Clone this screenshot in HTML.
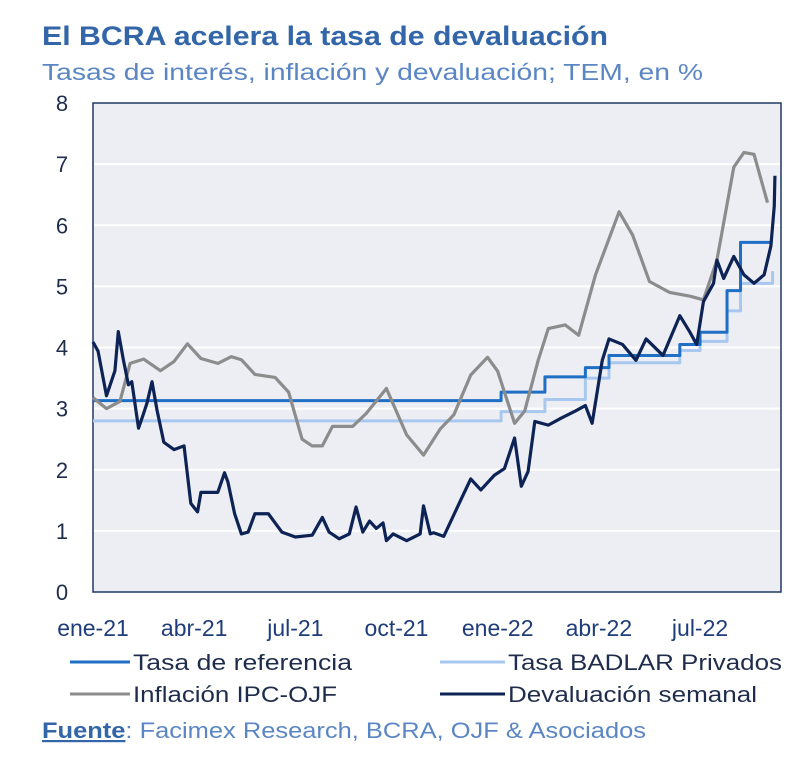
<!DOCTYPE html>
<html><head><meta charset="utf-8">
<style>
body{margin:0;background:#fff;width:800px;height:769px;overflow:hidden;font-family:"Liberation Sans",sans-serif;}
</style></head>
<body>
<svg id="chart" width="800" height="769" xmlns="http://www.w3.org/2000/svg" font-family="Liberation Sans, sans-serif">
<text x="42" y="45" font-size="27" font-weight="bold" fill="#3366a8" textLength="566" lengthAdjust="spacingAndGlyphs">El BCRA acelera la tasa de devaluación</text>
<text x="42" y="80" font-size="23" fill="#5b86c4" textLength="661" lengthAdjust="spacingAndGlyphs">Tasas de interés, inflación y devaluación; TEM, en %</text>
<rect x="93" y="103" width="688" height="489" fill="#eceef3" stroke="#1f3864" stroke-width="1.5"/>
<g id="grid"></g>
<g id="yticks" font-size="22" fill="#1f2d4d" text-anchor="middle"></g>
<g id="xticks" font-size="23" fill="#1f3d7a" text-anchor="middle"></g>
<g id="series"></g>
<g font-size="22" fill="#1f2d4d">
<line x1="70" y1="662" x2="130" y2="662" stroke="#1f6fc5" stroke-width="3"/>
<text x="133" y="670" textLength="219" lengthAdjust="spacingAndGlyphs">Tasa de referencia</text>
<line x1="440" y1="662" x2="505" y2="662" stroke="#a9c8f0" stroke-width="3"/>
<text x="508" y="670" textLength="274" lengthAdjust="spacingAndGlyphs">Tasa BADLAR Privados</text>
<line x1="70" y1="694" x2="130" y2="694" stroke="#8c8c8c" stroke-width="3"/>
<text x="133" y="702" textLength="204" lengthAdjust="spacingAndGlyphs">Inflación IPC-OJF</text>
<line x1="440" y1="694" x2="505" y2="694" stroke="#0d2356" stroke-width="3"/>
<text x="508" y="702" textLength="249" lengthAdjust="spacingAndGlyphs">Devaluación semanal</text>
</g>
<text x="42" y="738" font-size="22" fill="#5b86c4" textLength="604" lengthAdjust="spacingAndGlyphs"><tspan font-weight="bold" fill="#3366a8" text-decoration="underline">Fuente</tspan>: Facimex Research, BCRA, OJF &amp; Asociados</text>
</svg>
<script>
const yTicks=[0,1,2,3,4,5,6,7,8];
const xTickLabels=["ene-21","abr-21","jul-21","oct-21","ene-22","abr-22","jul-22"];
const xTickMonths=[0,3,6,9,12,15,18];
const refT=[0,12.1,13.4,14.6,15.3,17.4,18.0,18.8,19.2,20.15];
const refV=[3.13,3.27,3.52,3.67,3.87,4.05,4.25,4.93,5.72,5.72];
const badT=[0,12.1,13.4,14.6,15.3,17.4,18.0,18.8,19.2,20.15];
const badV=[2.8,2.95,3.15,3.5,3.75,3.95,4.1,4.6,5.05,5.25];
const infT=[0,0.4,0.8,1.1,1.5,2.0,2.4,2.8,3.2,3.7,4.1,4.4,4.8,5.4,5.8,6.2,6.5,6.8,7.1,7.7,8.1,8.7,9.3,9.8,10.3,10.7,11.2,11.7,12.0,12.5,12.8,13.2,13.5,14.0,14.4,14.9,15.6,16.0,16.5,17.1,17.7,18.1,18.5,19.0,19.3,19.6,20.0];
const infV=[3.18,3.0,3.12,3.74,3.81,3.62,3.77,4.06,3.82,3.74,3.85,3.8,3.56,3.51,3.27,2.5,2.39,2.39,2.71,2.71,2.92,3.33,2.57,2.24,2.67,2.9,3.55,3.84,3.61,2.76,2.96,3.79,4.31,4.37,4.2,5.19,6.22,5.84,5.08,4.9,4.84,4.78,5.43,6.95,7.19,7.16,6.37];
const devT=[0,0.15,0.4,0.65,0.75,0.9,1.05,1.15,1.35,1.5,1.6,1.75,1.9,2.1,2.4,2.7,2.9,3.1,3.2,3.7,3.9,4.0,4.2,4.4,4.6,4.8,5.2,5.6,6.0,6.5,6.8,7.0,7.3,7.6,7.8,8.0,8.2,8.4,8.6,8.7,8.9,9.3,9.7,9.8,10.0,10.1,10.4,10.9,11.2,11.5,11.9,12.2,12.5,12.7,12.9,13.1,13.5,13.9,14.3,14.6,14.8,15.1,15.3,15.7,16.1,16.4,16.9,17.4,17.7,17.9,18.1,18.4,18.5,18.7,19.0,19.3,19.6,19.9,20.1,20.2,20.22];
const devV=[4.09,3.94,3.21,3.62,4.26,3.8,3.39,3.44,2.68,2.92,3.09,3.44,2.97,2.45,2.33,2.39,1.45,1.31,1.63,1.63,1.95,1.8,1.28,0.95,0.98,1.28,1.28,0.98,0.9,0.93,1.22,0.98,0.87,0.95,1.39,0.98,1.16,1.04,1.13,0.84,0.95,0.84,0.95,1.41,0.95,0.97,0.91,1.5,1.85,1.67,1.91,2.02,2.52,1.73,1.97,2.79,2.73,2.85,2.96,3.05,2.76,3.79,4.14,4.05,3.79,4.14,3.87,4.52,4.25,4.05,4.75,5.05,5.43,5.13,5.49,5.19,5.05,5.19,5.66,6.31,6.81];

const X0=93,X1=781,Y0=592,Y1=103,MMAX=20.4;
const xs=m=>X0+(m/MMAX)*(X1-X0);
const ys=v=>Y0-(v/8)*(Y0-Y1);
const NS="http://www.w3.org/2000/svg";
const grid=document.getElementById('grid'),yt=document.getElementById('yticks'),xt=document.getElementById('xticks'),ser=document.getElementById('series');
yTicks.forEach(v=>{
  if(v>0&&v<8){const l=document.createElementNS(NS,'line');
  l.setAttribute('x1',X0+1);l.setAttribute('x2',X1-1);l.setAttribute('y1',ys(v));l.setAttribute('y2',ys(v));
  l.setAttribute('stroke','#ffffff');l.setAttribute('stroke-width','2');
  
  
  grid.appendChild(l);}
  const t=document.createElementNS(NS,'text');t.setAttribute('x',62);t.setAttribute('y',ys(v)+8);t.textContent=v;
  
  
  yt.appendChild(t);
});
xTickLabels.forEach((s,i)=>{
  const t=document.createElementNS(NS,'text');t.setAttribute('x',xs(xTickMonths[i]));t.setAttribute('y',636);t.textContent=s;
  
  
  xt.appendChild(t);
});
function line(T,V,color,w,name,step){
  let d='';
  T.forEach((t,i)=>{
    if(i===0)d+='M'+xs(t)+','+ys(V[i]);
    else if(step)d+='L'+xs(t)+','+ys(V[i-1])+'L'+xs(t)+','+ys(V[i]);
    else d+='L'+xs(t)+','+ys(V[i]);
  });
  const p=document.createElementNS(NS,'path');p.setAttribute('d',d);p.setAttribute('fill','none');
  p.setAttribute('stroke',color);p.setAttribute('stroke-width',w);p.setAttribute('stroke-linejoin','round');
  
  
  ser.appendChild(p);
}
line(badT,badV,'#a9c8f0',3,'series-badlar',true);
line(refT,refV,'#1f6fc5',3,'series-tasa-referencia',true);
line(infT,infV,'#8c8c8c',3.2,'series-inflacion',false);
line(devT,devV,'#0d2356',3.2,'series-devaluacion',false);
</script>
</body></html>
